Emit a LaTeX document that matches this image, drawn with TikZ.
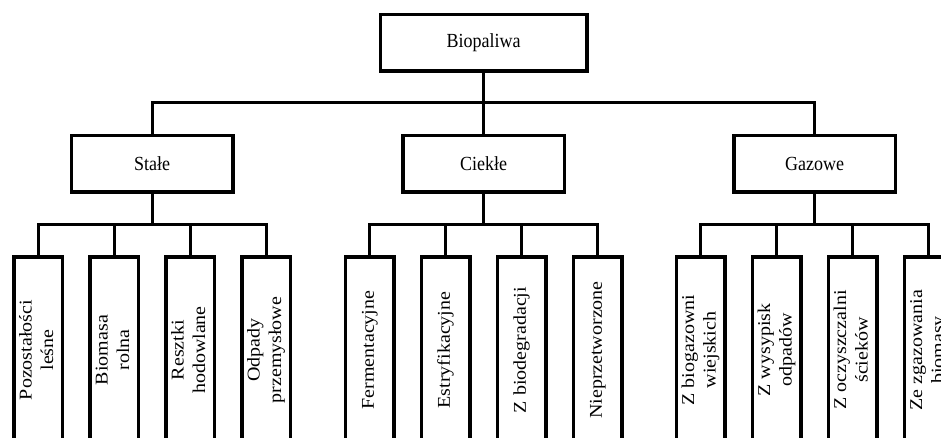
\documentclass[tikz,border=0pt]{standalone}
\usepackage{fontspec}
\setmainfont{Liberation Serif}
\usepackage{graphicx}
\newcommand\htx[1]{\scalebox{0.9}[1]{#1}}
\newcommand\vtx[1]{\scalebox{0.9}[1]{\rotatebox{90}{\begin{tabular}{@{}c@{}}#1\end{tabular}}}}
\begin{document}
\begin{tikzpicture}[x=1pt,y=-1pt,
  box/.style={draw=black,line width=3.5pt,rectangle,inner sep=0pt,fill=white,
    font=\fontsize{20}{24}\selectfont},
  midbox/.style={box,minimum width=161.5pt,minimum height=56.5pt},
  leafbox/.style={box,minimum width=48.5pt,minimum height=186pt},
  conn/.style={draw=black,line width=3pt,line cap=rect,line join=miter}]
\useasboundingbox (0,0) rectangle (941,437);
\clip (0,0) rectangle (941,437);
\fill[white] (0,0) rectangle (941,437);

\coordinate (bus1) at (0,102.5);
\coordinate (bus2) at (0,224.5);

\node[box,minimum width=206.5pt,minimum height=56.5pt] (top) at (483.5,42.5) {\htx{Biopaliwa}};

\node[midbox] (st) at (152,163.5) {\htx{Stałe}};
\node[midbox] (ck) at (483.5,163.5) {\htx{Ciekłe}};
\node[midbox] (gz) at (814.5,163.5) {\htx{Gazowe}};

% leaves
\node[leafbox] (s1) at (38,350) {\vtx{Pozostałości\\leśne}};
\node[leafbox] (s2) at (114,350) {\vtx{Biomasa\\rolna}};
\node[leafbox] (s3) at (190,350) {\vtx{Resztki\\hodowlane}};
\node[leafbox] (s4) at (266,350) {\vtx{Odpady\\przemysłowe}};

\node[leafbox] (c1) at (369.5,350) {\vtx{Fermentacyjne}};
\node[leafbox] (c2) at (445.5,350) {\vtx{Estryfikacyjne}};
\node[leafbox] (c3) at (521.5,350) {\vtx{Z biodegradacji}};
\node[leafbox] (c4) at (597.5,350) {\vtx{Nieprzetworzone}};

\node[leafbox] (g1) at (700.5,350) {\vtx{Z biogazowni\\wiejskich}};
\node[leafbox] (g2) at (776.5,350) {\vtx{Z wysypisk\\odpadów}};
\node[leafbox] (g3) at (852.5,350) {\vtx{Z oczyszczalni\\ścieków}};
\node[leafbox] (g4) at (928.5,350) {\vtx{Ze zgazowania\\biomasy}};

% connectors level 1
\draw[conn] (top.south) -- (top.south |- bus1);
\draw[conn] (st.north) -- (st.north |- bus1) -- (gz.north |- bus1) -- (gz.north);
\draw[conn] (top.south |- bus1) -- (ck.north);

% connectors level 2
\foreach \p/\a/\b/\c/\d in {st/s1/s2/s3/s4, ck/c1/c2/c3/c4, gz/g1/g2/g3/g4}{
  \draw[conn] (\p.south) -- (\p.south |- bus2);
  \draw[conn] (\a.north) -- (\a.north |- bus2) -- (\d.north |- bus2) -- (\d.north);
  \draw[conn] (\b.north) -- (\b.north |- bus2);
  \draw[conn] (\c.north) -- (\c.north |- bus2);
}
\end{tikzpicture}
\end{document}
